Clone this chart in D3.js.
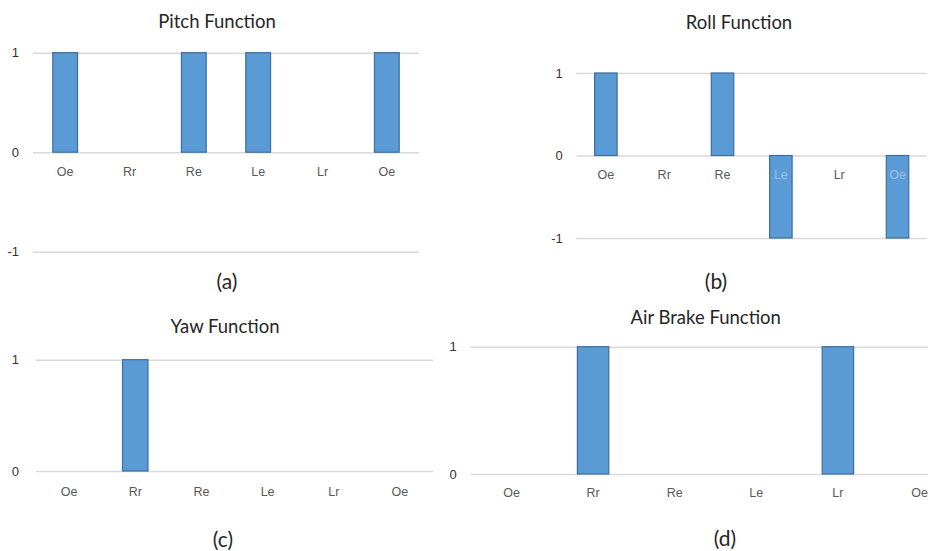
<!DOCTYPE html>
<html>
<head>
<meta charset="utf-8">
<script src="https://cdn.jsdelivr.net/npm/d3@7/dist/d3.min.js"></script>
<style>
  html, body { margin: 0; padding: 0; background: #fff; }
  svg { display: block; font-family: Lato, "Open Sans", sans-serif; }
</style>
</head>
<body>
<svg id="chart" width="928" height="551"></svg>
<script>
// ---- data ----
const categories = ["Oe", "Rr", "Re", "Le", "Lr", "Oe"];
const pitchValues = [1, 0, 1, 1, 0, 1];
const rollValues = [1, 0, 1, -1, 0, -1];
const yawValues = [0, 1, 0, 0, 0, 0];
const airBrakeValues = [0, 1, 0, 0, 1, 0];
const ticksPitch = [-1, 0, 1];
const ticksRoll = [-1, 0, 1];
const ticksYaw = [0, 1];
const ticksAirBrake = [0, 1];
const titles = ["Pitch Function", "Roll Function", "Yaw Function", "Air Brake Function"];
const captions = ["(a)", "(b)", "(c)", "(d)"];

// ---- layout ----
const panels = [
  { values: pitchValues, ticks: ticksPitch, title: titles[0], caption: captions[0],
    x0: 33, x1: 419, yTop: 52.7, yBot: 251.7, labOff: 14, catOff: 19,
    titleX: 217, titleY: 21, capX: 227, capY: 280 },
  { values: rollValues, ticks: ticksRoll, title: titles[1], caption: captions[1],
    x0: 576.7, x1: 926.7, yTop: 73, yBot: 238, labOff: 14, catOff: 19,
    titleX: 739, titleY: 22, capX: 716, capY: 280 },
  { values: yawValues, ticks: ticksYaw, title: titles[2], caption: captions[2],
    x0: 36, x1: 433, yTop: 359.7, yBot: 471, labOff: 17, catOff: 20.5,
    titleX: 225, titleY: 325.5, capX: 223, capY: 538 },
  { values: airBrakeValues, ticks: ticksAirBrake, title: titles[3], caption: captions[3],
    x0: 470.7, x1: 960.3, yTop: 346.7, yBot: 474, labOff: 14, catOff: 18.5,
    titleX: 705.7, titleY: 316.5, capX: 725, capY: 537 }
];

const svg = d3.select("#chart");
const idx = categories.map((d, i) => i);

panels.forEach(p => {
  const g = svg.append("g");
  const x = d3.scaleBand().domain(idx).range([p.x0, p.x1])
    .paddingInner(0.615).paddingOuter(0.3075);
  const y = d3.scaleLinear().domain(d3.extent(p.ticks)).range([p.yBot, p.yTop]);

  // gridlines + y labels via axis
  const yAxis = d3.axisLeft(y).tickValues(p.ticks).tickFormat(d => String(d))
    .tickSize(-(p.x1 - p.x0)).tickPadding(p.labOff);
  const ya = g.append("g").attr("transform", `translate(${p.x0},0)`).call(yAxis);
  ya.select(".domain").remove();
  ya.selectAll(".tick line").attr("stroke", "#d9d9d9").attr("stroke-width", 1.5);
  ya.selectAll(".tick text").attr("fill", "#333333").style("font-size", "13px");

  // bars
  g.selectAll("rect").data(p.values.map((v, i) => ({ v, i })).filter(d => d.v !== 0))
    .enter().append("rect")
    .attr("x", d => x(d.i))
    .attr("width", x.bandwidth())
    .attr("y", d => y(Math.max(0, d.v)))
    .attr("height", d => Math.abs(y(d.v) - y(0)))
    .attr("fill", "#5b9bd5")
    .attr("stroke", "#3d6e9c")
    .attr("stroke-width", 1.2);

  // category labels at zero line
  const xAxis = d3.axisBottom(x).tickFormat(i => categories[i]).tickSize(0).tickPadding(0);
  const xa = g.append("g").attr("transform", `translate(0,${y(0) + p.catOff})`).call(xAxis);
  xa.select(".domain").remove();
  xa.selectAll(".tick text")
    .attr("dy", "0.35em")
    .attr("fill", i => p.values[i] < 0 ? "#9cc0e4" : "#595959")
    .style("font-size", "12.5px");

  // title and caption
  g.append("text").attr("x", p.titleX).attr("y", p.titleY)
    .attr("text-anchor", "middle").attr("dominant-baseline", "central")
    .attr("fill", "#262626").style("font-size", "18.5px").text(p.title);
  g.append("text").attr("x", p.capX).attr("y", p.capY)
    .attr("text-anchor", "middle").attr("dominant-baseline", "central")
    .attr("fill", "#262626").style("font-size", "21px").text(p.caption);
});
</script>
</body>
</html>
